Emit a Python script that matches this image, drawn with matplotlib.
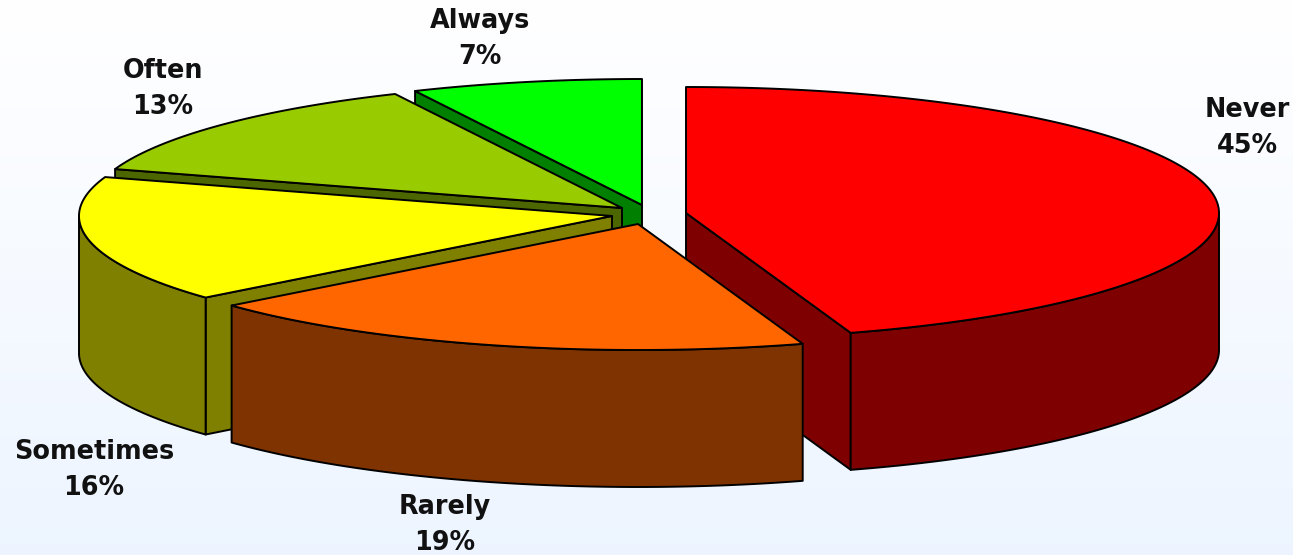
import numpy as np
import matplotlib
matplotlib.use("Agg")
import matplotlib.pyplot as plt

# Data
categories = ["Never", "Rarely", "Sometimes", "Often", "Always"]
values = [45, 18.8, 16.2, 13, 7]

# Style
top_colors = ["#FF0000", "#FF6600", "#FFFF00", "#99CC00", "#00FF00"]
side_colors = ["#7F0000", "#7F3300", "#7F7F00", "#4C6600", "#007F00"]
draw_order = [4, 3, 2, 0, 1]

# Layout in figure pixels
WIDTH, HEIGHT = 1293, 555
RX, RY, DEPTH = 533, 126, 137
apex_x = [686, 638, 612, 622, 642]
apex_y = [213, 224, 216, 208, 205]
label_x = [1247, 445, 94, 163, 480]
label_y = [128, 525, 470, 89, 39]

fig = plt.figure(figsize=(WIDTH / 100, HEIGHT / 100), dpi=100)
ax = fig.add_axes([0, 0, 1, 1])
ax.set_xlim(0, WIDTH)
ax.set_ylim(HEIGHT, 0)
ax.axis("off")

# Background: white at the top fading to pale blue at the bottom
grad = np.linspace(0, 1, 256)[:, None, None]
white = np.array([1.0, 1.0, 1.0])[None, None, :]
blue = np.array([0.93, 0.96, 1.0])[None, None, :]
ax.imshow(white * (1 - grad) + blue * grad, extent=[0, WIDTH, HEIGHT, 0],
          aspect="auto", zorder=0)

fractions = np.array(values, dtype=float) / sum(values)
ends = np.cumsum(fractions) * 2 * np.pi
starts = ends - fractions * 2 * np.pi

EDGE = dict(edgecolor="black", linewidth=1.4, joinstyle="round")


def rim(i, a):
    return apex_x[i] + RX * np.sin(a), apex_y[i] - RY * np.cos(a)


z = 1
for i in draw_order:
    a0, a1 = starts[i], ends[i]
    ax_, ay_ = apex_x[i], apex_y[i]
    # radial walls that face the viewer
    for a, visible in ((a0, np.sin(a0) < -1e-9), (a1, np.sin(a1) > 1e-9)):
        if not visible:
            continue
        x, y = rim(i, a)
        ax.fill([ax_, x, x, ax_], [ay_, y, y + DEPTH, ay_ + DEPTH],
                facecolor=side_colors[i], zorder=z, **EDGE)
        z += 1
    # outer wall (front-facing part only)
    f0, f1 = max(a0, np.pi / 2), min(a1, 3 * np.pi / 2)
    if f1 > f0:
        t = np.linspace(f0, f1, 200)
        x, y = rim(i, t)
        ax.fill(np.r_[x, x[::-1]], np.r_[y, y[::-1] + DEPTH],
                facecolor=side_colors[i], zorder=z, **EDGE)
        z += 1
    # top face
    t = np.linspace(a0, a1, 300)
    x, y = rim(i, t)
    ax.fill(np.r_[ax_, x], np.r_[ay_, y],
            facecolor=top_colors[i], zorder=z, **EDGE)
    z += 1

for i, name in enumerate(categories):
    ax.text(label_x[i], label_y[i], f"{name}\n{values[i]:.0f}%", ha="center", va="center",
            fontsize=18.4, fontweight="bold", family="DejaVu Sans", color="#111111",
            linespacing=1.48, zorder=z)

fig.savefig("out.png", dpi=100)
